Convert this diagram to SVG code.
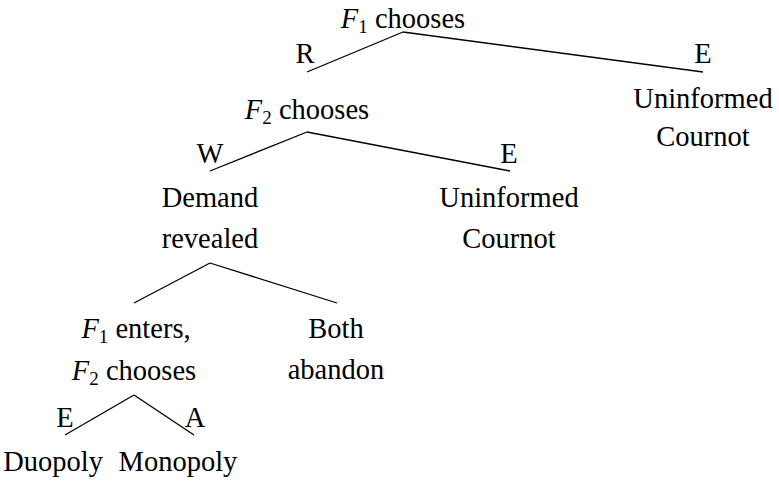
<svg xmlns="http://www.w3.org/2000/svg" width="779" height="487" viewBox="0 0 779 487" font-family="Liberation Serif, serif">
<style>
text{font-family:'Liberation Serif',serif;font-size:28.5px;fill:#000;text-anchor:middle}
.it{font-style:italic}
.sub{font-size:19px}
#edges line{stroke:#000;stroke-width:1.3;fill:none}
</style>
<rect width="779" height="487" fill="#fff"/>
<g id="edges">
<line x1="403" y1="32" x2="307" y2="72"/>
<line x1="403" y1="32" x2="703" y2="72"/>
<line x1="307" y1="132" x2="210" y2="171"/>
<line x1="307" y1="132" x2="510" y2="171"/>
<line x1="210" y1="263" x2="134" y2="303"/>
<line x1="210" y1="263" x2="337" y2="303"/>
<line x1="134" y1="395" x2="65" y2="435"/>
<line x1="134" y1="395" x2="194" y2="435"/>
</g>
<g id="edge-labels">
<text x="305" y="63">R</text>
<text x="703" y="63">E</text>
<text x="210" y="163">W</text>
<text x="509" y="163">E</text>
<text x="65" y="427">E</text>
<text x="195" y="427">A</text>
</g>
<g id="n-root"><text x="403" y="28"><tspan class="it">F</tspan><tspan class="sub" dy="5">1</tspan><tspan dy="-5"> chooses</tspan></text></g>
<g id="n-cournot1"><text x="703" y="108">Uninformed</text><text x="703" y="146">Cournot</text></g>
<g id="n-f2"><text x="307" y="119"><tspan class="it">F</tspan><tspan class="sub" dy="5">2</tspan><tspan dy="-5"> chooses</tspan></text></g>
<g id="n-demand"><text x="210" y="207">Demand</text><text x="210" y="248">revealed</text></g>
<g id="n-cournot2"><text x="509" y="207">Uninformed</text><text x="509" y="248">Cournot</text></g>
<g id="n-f1enters"><text x="136" y="338"><tspan class="it">F</tspan><tspan class="sub" dy="5">1</tspan><tspan dy="-5"> enters,</tspan></text><text x="134" y="380"><tspan class="it">F</tspan><tspan class="sub" dy="5">2</tspan><tspan dy="-5"> chooses</tspan></text></g>
<g id="n-abandon"><text x="336" y="338">Both</text><text x="336" y="379">abandon</text></g>
<g id="n-duopoly"><text x="53" y="471">Duopoly</text></g>
<g id="n-monopoly"><text x="178" y="471">Monopoly</text></g>
</svg>
